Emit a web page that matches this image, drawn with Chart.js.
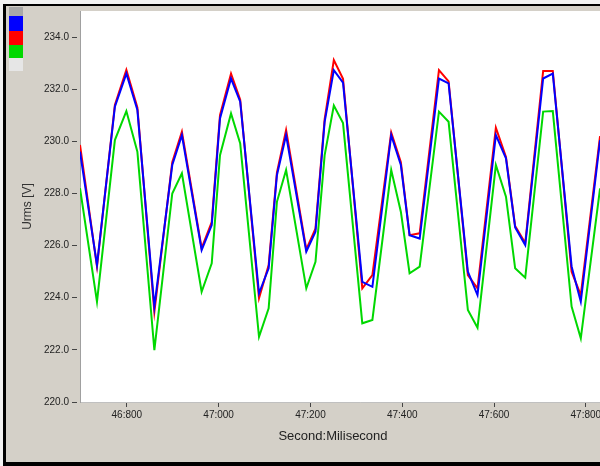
<!DOCTYPE html>
<html>
<head>
<meta charset="utf-8">
<script src="https://cdn.jsdelivr.net/npm/chart.js@4.4.1/dist/chart.umd.min.js"></script>
<style>
  html, body { margin: 0; padding: 0; width: 600px; height: 466px; overflow: hidden; background: #f2f2f2; }
  .frame { position: absolute; left: 3px; top: 4px; width: 700px; height: 456px;
           background: #d4d0c8; border-left: 3px solid #000; border-top: 2px solid #000; border-bottom: 4px solid #000; }
  canvas { position: absolute; left: 0; top: 0; }
</style>
</head>
<body>
<div class="frame"></div>
<canvas id="chart" width="640" height="466"></canvas>
<script>
// время в мс (секунда*1000 + миллисекунды)
const times = [46698, 46735, 46774, 46799, 46823, 46860, 46899, 46920, 46963, 46985,
               47003, 47027, 47047, 47088, 47109, 47127, 47147, 47191, 47211, 47231,
               47251, 47271, 47313, 47335, 47376, 47397, 47416, 47438, 47480, 47501,
               47543, 47564, 47604, 47626, 47646, 47668, 47707, 47728, 47769, 47789, 47831];

const blueValues = [229.6, 225.25, 231.33, 232.6, 231.2, 223.66, 229.09, 230.24, 225.83, 226.79,
                    230.88, 232.41, 231.52, 224.17, 225.13, 228.7, 230.24, 225.77, 226.53, 230.75,
                    232.73, 232.25, 224.61, 224.42, 230.24, 229.09, 226.4, 226.27, 232.41, 232.22,
                    225.0, 224.1, 230.24, 229.35, 226.7, 226.02, 232.41, 232.6, 225.2, 223.85, 230.05];

const redValues = [229.86, 225.2, 231.4, 232.74, 231.3, 223.46, 229.2, 230.37, 225.9, 226.9,
                   231.0, 232.6, 231.6, 223.98, 225.25, 228.8, 230.43, 225.85, 226.65, 230.85,
                   233.12, 232.4, 224.36, 224.87, 230.34, 229.2, 226.4, 226.47, 232.73, 232.3,
                   224.87, 224.36, 230.52, 229.4, 226.75, 226.1, 232.7, 232.7, 225.0, 224.1, 230.2];

const greenValues = [228.2, 223.85, 230.05, 231.16, 229.6, 221.99, 228.0, 228.77, 224.23, 225.32,
                     229.47, 231.07, 229.92, 222.5, 223.59, 227.68, 228.9, 224.36, 225.38, 229.47,
                     231.37, 230.7, 223.02, 223.15, 228.9, 227.3, 224.94, 225.19, 231.14, 230.75,
                     223.53, 222.85, 229.09, 227.88, 225.13, 224.77, 231.14, 231.16, 223.66, 222.44, 228.2];

const xMin = 46698, xMax = 47918, xStep = 200;
const yMin = 220, yMax = 235, yStep = 2;
const yTitle = 'Urms [V]';
const xTitle = 'Second:Milisecond';

const toPoints = vals => times.map((t, i) => ({ x: t, y: vals[i] }));

function fmtTime(v) {
    const s = Math.floor(v / 1000);
    return s + ':' + String(Math.round(v % 1000)).padStart(3, '0');
}

// тики строго кратные шагу
function stepTicks(min, max, step) {
    const out = [];
    for (let v = Math.ceil(min / step) * step; v <= max; v += step) out.push({ value: v });
    return out;
}

Chart.defaults.font.family = '"Liberation Sans", Arial, sans-serif';
Chart.defaults.color = '#222';

// белый фон области графика, цветные квадраты слева, подпись оси X
const decor = {
    id: 'decor',
    beforeDraw(chart) {
        const { ctx, chartArea: a } = chart;
        ctx.save();
        ctx.fillStyle = '#fff';
        ctx.fillRect(a.left, a.top, a.right - a.left, a.bottom - a.top);
        ctx.restore();
    },
    afterDraw(chart) {
        const ctx = chart.ctx;
        ctx.save();
        const boxes = [['#a8a8a8', 7, 16]];
        let y = 16;
        chart.data.datasets.forEach((ds, i) => {
            const h = i === 0 ? 15 : 13.5;
            boxes.push([ds.borderColor, y, y + h]);
            y += h;
        });
        boxes.push(['#e6e6e6', y, 71]);
        boxes.forEach(([c, y0, y1]) => {
            ctx.fillStyle = c;
            ctx.fillRect(9, Math.round(y0), 14, Math.round(y1) - Math.round(y0));
        });
        ctx.fillStyle = '#222';
        ctx.font = '13px "Liberation Sans", Arial, sans-serif';
        ctx.textAlign = 'center';
        ctx.textBaseline = 'middle';
        ctx.fillText(xTitle, 333, 436);
        ctx.restore();
    }
};

new Chart(document.getElementById('chart').getContext('2d'), {
    type: 'line',
    data: {
        datasets: [
            { label: 'U1', data: toPoints(blueValues), borderColor: '#0000ff', borderWidth: 2 },
            { label: 'U2', data: toPoints(redValues), borderColor: '#ff0000', borderWidth: 2 },
            { label: 'U3', data: toPoints(greenValues), borderColor: '#00d800', borderWidth: 2 }
        ]
    },
    options: {
        responsive: false,
        animation: false,
        devicePixelRatio: 1,
        layout: { padding: { left: 0, top: 11, right: 0, bottom: 0 } },
        elements: { point: { radius: 0 }, line: { tension: 0 } },
        plugins: { legend: { display: false }, tooltip: { enabled: false } },
        scales: {
            x: {
                type: 'linear',
                min: xMin,
                max: xMax,
                afterFit: s => { s.height = 64; },
                afterBuildTicks: s => { s.ticks = stepTicks(xMin, xMax, xStep); },
                ticks: { padding: 2, font: { size: 10 }, maxRotation: 0, autoSkip: false, callback: v => fmtTime(v) },
                grid: { drawOnChartArea: false, tickLength: 5, tickColor: '#444' },
                border: { color: '#c0c0c0' }
            },
            y: {
                min: yMin,
                max: yMax,
                afterFit: s => { s.width = 80; },
                afterBuildTicks: s => { s.ticks = stepTicks(yMin, yMax, yStep); },
                ticks: { padding: 3, font: { size: 10 }, callback: v => v.toFixed(1) },
                grid: { drawOnChartArea: false, tickLength: 8, tickColor: '#444', tickBorderDash: [5, 3] },
                border: { color: '#a0a0a0' },
                title: { display: true, text: yTitle, font: { size: 12 }, color: '#333', padding: { top: 20, bottom: 0 } }
            }
        }
    },
    plugins: [decor]
});
</script>
</body>
</html>
